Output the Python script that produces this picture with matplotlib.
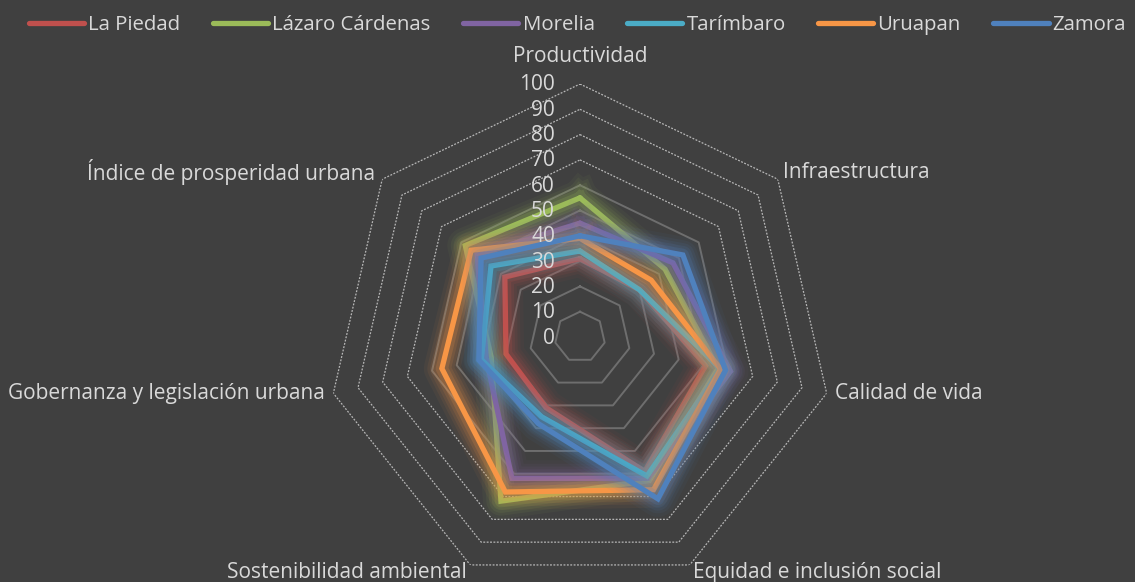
import numpy as np
import matplotlib.pyplot as plt

categories = ['Productividad', 'Infraestructura', 'Calidad de vida',
              'Equidad e inclusión social', 'Sostenibilidad ambiental',
              'Gobernanza y legislación urbana', 'Índice de prosperidad urbana']
la_piedad = [31, 30, 51, 59, 31, 30, 38]
lazaro = [55, 43, 56, 63, 72, 36, 58]
morelia = [45, 47, 61, 62, 62, 38, 52]
tarimbaro = [34, 30, 57, 61, 35, 40, 45]
uruapan = [39, 36, 57, 67, 68, 56, 55]
zamora = [40, 52, 59, 71, 38, 41, 50]
series_names = ['La Piedad', 'Lázaro Cárdenas', 'Morelia', 'Tarímbaro', 'Uruapan', 'Zamora']
ticks = [0, 10, 20, 30, 40, 50, 60, 70, 80, 90, 100]

colors = ['#c0504d', '#9bbb59', '#8064a2', '#4bacc6', '#f79646', '#4f81bd']
bg = '#404040'
txt = '#d9d9d9'
fs = 15

plt.rcParams['font.family'] = ['Open Sans', 'DejaVu Sans']

fig = plt.figure(figsize=(11.35, 5.82), dpi=100, facecolor=bg)
W, H = 1135, 582
cx, cy, R = 580, 337, 253
ax = fig.add_axes([(cx - R) / W, (H - cy - R) / H, 2 * R / W, 2 * R / H],
                  projection='polar', facecolor='none')
ax.set_theta_offset(np.pi / 2)
ax.set_theta_direction(-1)
ax.set_ylim(0, 100)
ax.grid(False)
ax.spines['polar'].set_visible(False)
ax.set_xticks([])
ax.set_yticks([])

n = len(categories)
theta = np.linspace(0, 2 * np.pi, n, endpoint=False)
theta_c = np.append(theta, theta[0])

# ring gridlines
for r in ticks[1:]:
    if r <= 60:
        ax.plot(theta_c, [r] * (n + 1), color='#6e6e6e', lw=1.4, zorder=1)
    else:
        ax.plot(theta_c, [r] * (n + 1), color='#b8b8b8', lw=0.9,
                linestyle=(0, (1.5, 1.2)), zorder=1)

# tick labels
for r in ticks:
    ax.annotate(str(r), xy=(0, r), xytext=(-25, -1), textcoords='offset pixels',
                ha='right', va='center', color=txt, fontsize=fs, zorder=20)

# category labels
offsets = [(0, 27, 'center'), (5, 7, 'left'), (8, 0, 'left'), (3, -8, 'left'),
           (-3, -8, 'right'), (-8, 0, 'right'), (-7, 7, 'right')]
for t, lab, (dx, dy, ha) in zip(theta, categories, offsets):
    ax.annotate(lab, xy=(t, 100), xytext=(dx, dy), textcoords='offset pixels',
                ha=ha, va='center', color=txt, fontsize=fs, annotation_clip=False)

# series with soft glow
data = [la_piedad, lazaro, morelia, tarimbaro, uruapan, zamora]
handles = []
for i, (vals, name, c) in enumerate(zip(data, series_names, colors)):
    v = np.append(vals, vals[0])
    for w, a in [(26, 0.05), (21, 0.07), (17, 0.09), (13, 0.12), (9, 0.18)]:
        ax.plot(theta_c, v, color=c, lw=w, alpha=a, solid_joinstyle='round',
                zorder=2 + i)
    h, = ax.plot(theta_c, v, color=c, lw=3.8, solid_joinstyle='miter',
                 solid_capstyle='round', zorder=2 + i + 0.5, label=name)
    handles.append(h)

fig.legend(handles=handles, loc='upper center', bbox_to_anchor=(0.509, 1.006),
           ncol=6, frameon=False, fontsize=14.7, labelcolor=txt,
           handlelength=2.7, handletextpad=0.2, columnspacing=1.6)

fig.savefig('out.png', dpi=100, facecolor=bg)
